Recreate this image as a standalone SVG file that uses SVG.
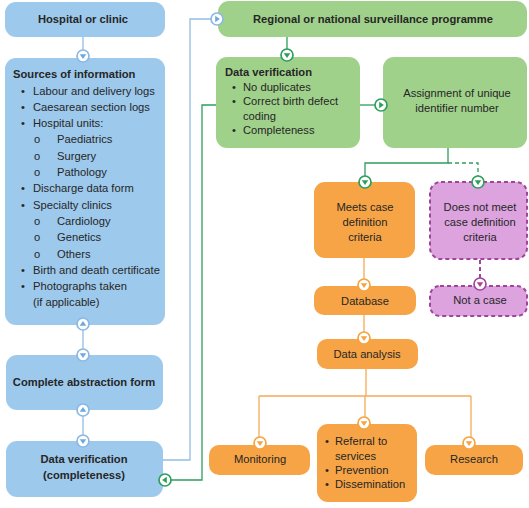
<svg xmlns="http://www.w3.org/2000/svg" width="529" height="508" viewBox="0 0 529 508">
<style>
text{font-family:"Liberation Sans",Arial,sans-serif;font-size:11.2px;fill:#262626}
.b{font-weight:bold}
.c{text-anchor:middle}
.blue{fill:#9dc9ec}
.green{fill:#a0d18b}
.orange{fill:#f6a445}
.pink{fill:#dca3de;stroke:#a3449c;stroke-width:2;stroke-dasharray:4 3}
.lb{stroke:#93bde3;stroke-width:1.3;fill:none}
.lg{stroke:#2e9e5c;stroke-width:1.3;fill:none}
.lo{stroke:#f5ab55;stroke-width:1.3;fill:none}
.lp{stroke:#a3449c;stroke-width:2;fill:none;stroke-dasharray:4 3}
.dash{stroke-dasharray:4 3}
.mk circle{fill:#fff;stroke-width:1.7}
.mb circle{stroke:#8bb8e6}.mb path{fill:#6fa8de}
.mg circle{stroke:#2e9e5c}.mg path{fill:#2e9e5c}
.mo circle{stroke:#f5a441}.mo path{fill:#f5a441}
.mp circle{stroke:#a3449c}.mp path{fill:#a3449c}
</style>
<rect width="529" height="508" fill="#fff"/>

<g id="hospital">
<rect class="blue" x="5" y="2" width="160" height="35" rx="11"/>
<text class="b c" x="83" y="23">Hospital or clinic</text>
</g>

<g id="sources">
<rect class="blue" x="5" y="58" width="160" height="267" rx="11"/>
<text class="b" x="13" y="78">Sources of information</text>
<text x="21" y="94.5">•</text><text x="33" y="94.5">Labour and delivery logs</text>
<text x="21" y="110.8">•</text><text x="33" y="110.8">Caesarean section logs</text>
<text x="21" y="127.1">•</text><text x="33" y="127.1">Hospital units:</text>
<text x="34" y="143.4">o</text><text x="57" y="143.4">Paediatrics</text>
<text x="34" y="159.7">o</text><text x="57" y="159.7">Surgery</text>
<text x="34" y="176">o</text><text x="57" y="176">Pathology</text>
<text x="21" y="192.3">•</text><text x="33" y="192.3">Discharge data form</text>
<text x="21" y="208.6">•</text><text x="33" y="208.6">Specialty clinics</text>
<text x="34" y="224.9">o</text><text x="57" y="224.9">Cardiology</text>
<text x="34" y="241.2">o</text><text x="57" y="241.2">Genetics</text>
<text x="34" y="257.5">o</text><text x="57" y="257.5">Others</text>
<text x="21" y="273.8">•</text><text x="33" y="273.8">Birth and death certificate</text>
<text x="21" y="290.1">•</text><text x="33" y="290.1">Photographs taken</text>
<text x="33" y="306.4">(if applicable)</text>
</g>

<g id="abstraction">
<rect class="blue" x="6" y="355" width="157" height="55" rx="11"/>
<text class="b c" x="84" y="386">Complete abstraction form</text>
</g>

<g id="verification-blue">
<rect class="blue" x="6" y="441" width="157" height="56" rx="11"/>
<text class="b c" x="84" y="463">Data verification</text>
<text class="b c" x="84" y="479">(completeness)</text>
</g>

<g id="regional">
<rect class="green" x="218" y="1" width="309" height="36" rx="11"/>
<text class="b c" x="373" y="23">Regional or national surveillance programme</text>
</g>

<g id="verification-green">
<rect class="green" x="216" y="57" width="144" height="91" rx="11"/>
<text class="b" x="225" y="76">Data verification</text>
<text x="232" y="91">•</text><text x="243" y="91">No duplicates</text>
<text x="232" y="105">•</text><text x="243" y="105">Correct birth defect</text>
<text x="243" y="120">coding</text>
<text x="232" y="134">•</text><text x="243" y="134">Completeness</text>
</g>

<g id="assignment">
<rect class="green" x="383" y="57" width="144" height="91" rx="11"/>
<text class="c" x="457" y="97">Assignment of unique</text>
<text class="c" x="457" y="112">identifier number</text>
</g>

<g id="meets">
<rect class="orange" x="314" y="182" width="101" height="76" rx="11"/>
<text class="c" x="365" y="211">Meets case</text>
<text class="c" x="365" y="226">definition</text>
<text class="c" x="365" y="241">criteria</text>
</g>

<g id="not-meet">
<rect class="pink" x="430" y="182" width="97" height="77" rx="11"/>
<text class="c" x="480" y="211">Does not meet</text>
<text class="c" x="480" y="226">case definition</text>
<text class="c" x="480" y="241">criteria</text>
</g>

<g id="database">
<rect class="orange" x="314" y="286" width="102" height="29" rx="10"/>
<text class="c" x="365" y="305">Database</text>
</g>

<g id="not-a-case">
<rect class="pink" x="430" y="286" width="97" height="30" rx="10"/>
<text class="c" x="480" y="304">Not a case</text>
</g>

<g id="analysis">
<rect class="orange" x="317" y="339" width="101" height="30" rx="10"/>
<text class="c" x="367" y="358">Data analysis</text>
</g>

<g id="monitoring">
<rect class="orange" x="209" y="445" width="101" height="30" rx="10"/>
<text class="c" x="260" y="463">Monitoring</text>
</g>

<g id="referral">
<rect class="orange" x="317" y="424" width="100" height="78" rx="11"/>
<text x="325" y="445">•</text><text x="335" y="445">Referral to</text>
<text x="335" y="460">services</text>
<text x="325" y="474">•</text><text x="335" y="474">Prevention</text>
<text x="325" y="488">•</text><text x="335" y="488">Dissemination</text>
</g>

<g id="research">
<rect class="orange" x="425" y="445" width="98" height="30" rx="10"/>
<text class="c" x="474" y="463">Research</text>
</g>

<g id="connectors">
<path class="lb" d="M83,37 V57 M83,325 V355 M83,410 V441"/>
<path class="lb" d="M163,460 H190 V19 H212"/>
<path class="lg" d="M287,37 V55"/>
<path class="lg" d="M360,105 H376"/>
<path class="lg" d="M216,105 H202 V480 H170"/>
<path class="lg" d="M448,148 V163 H365 V177"/>
<path class="lg dash" d="M448,163 H478 V177"/>
<path class="lo" d="M364,258 V280 M364,315 V333 M366,369 V396 M259,396 H471 M259,396 V438 M365,396 V418 M471,396 V438"/>
<path class="lp" d="M480,260 V279"/>
<g class="mk mb" transform="translate(83,56)"><circle r="6"/><path d="M-3.3,-1.8 H3.3 L0,2.9 Z"/></g>
<g class="mk mb" transform="translate(83,324) rotate(180)"><circle r="6"/><path d="M-3.3,-1.8 H3.3 L0,2.9 Z"/></g>
<g class="mk mb" transform="translate(83,355)"><circle r="6"/><path d="M-3.3,-1.8 H3.3 L0,2.9 Z"/></g>
<g class="mk mb" transform="translate(83,410) rotate(180)"><circle r="6"/><path d="M-3.3,-1.8 H3.3 L0,2.9 Z"/></g>
<g class="mk mb" transform="translate(83,441)"><circle r="6"/><path d="M-3.3,-1.8 H3.3 L0,2.9 Z"/></g>
<g class="mk mb" transform="translate(217,19) rotate(-90)"><circle r="6"/><path d="M-3.3,-1.8 H3.3 L0,2.9 Z"/></g>
<g class="mk mg" transform="translate(287,55)"><circle r="6"/><path d="M-3.3,-1.8 H3.3 L0,2.9 Z"/></g>
<g class="mk mg" transform="translate(381,105) rotate(-90)"><circle r="6"/><path d="M-3.3,-1.8 H3.3 L0,2.9 Z"/></g>
<g class="mk mg" transform="translate(165,480) rotate(90)"><circle r="6"/><path d="M-3.3,-1.8 H3.3 L0,2.9 Z"/></g>
<g class="mk mg" transform="translate(365,182)"><circle r="6"/><path d="M-3.3,-1.8 H3.3 L0,2.9 Z"/></g>
<g class="mk mg" transform="translate(478,182)"><circle r="6"/><path d="M-3.3,-1.8 H3.3 L0,2.9 Z"/></g>
<g class="mk mo" transform="translate(364,285)"><circle r="6"/><path d="M-3.3,-1.8 H3.3 L0,2.9 Z"/></g>
<g class="mk mp" transform="translate(480,284)"><circle r="6"/><path d="M-3.3,-1.8 H3.3 L0,2.9 Z"/></g>
<g class="mk mo" transform="translate(364,338)"><circle r="6"/><path d="M-3.3,-1.8 H3.3 L0,2.9 Z"/></g>
<g class="mk mo" transform="translate(260,443)"><circle r="6"/><path d="M-3.3,-1.8 H3.3 L0,2.9 Z"/></g>
<g class="mk mo" transform="translate(364,423)"><circle r="6"/><path d="M-3.3,-1.8 H3.3 L0,2.9 Z"/></g>
<g class="mk mo" transform="translate(469,443)"><circle r="6"/><path d="M-3.3,-1.8 H3.3 L0,2.9 Z"/></g>
</g>
</svg>
